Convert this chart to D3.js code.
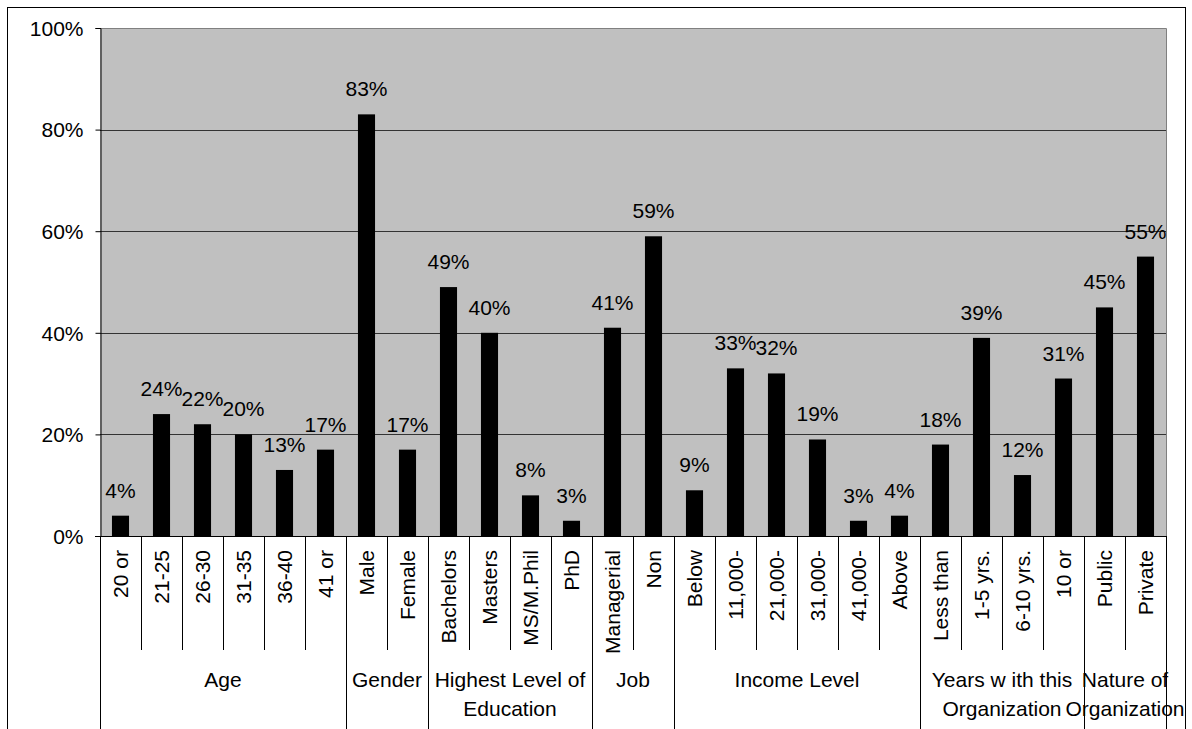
<!DOCTYPE html>
<html>
<head>
<meta charset="utf-8">
<script src="https://cdn.jsdelivr.net/npm/d3@7"></script>
<style>
  html, body { margin: 0; padding: 0; background: #fff; }
  svg { display: block; font-family: Arial, "Liberation Sans", sans-serif; }
</style>
</head>
<body>
<svg id="chart" width="1192" height="729"></svg>
<script>
// categories along the bottom, in order
const categories = ['20 or', '21-25', '26-30', '31-35', '36-40', '41 or',
  'Male', 'Female',
  'Bachelors', 'Masters', 'MS/M.Phil', 'PhD',
  'Managerial', 'Non',
  'Below', '11,000-', '21,000-', '31,000-', '41,000-', 'Above',
  'Less than', '1-5 yrs.', '6-10 yrs.', '10 or',
  'Public', 'Private'];
// percentages
const values = [4, 24, 22, 20, 13, 17,
  83, 17,
  49, 40, 8, 3,
  41, 59,
  9, 33, 32, 19, 3, 4,
  18, 39, 12, 31,
  45, 55];
// group labels (lines) and how many categories each one covers
const groupNames = [['Age'], ['Gender'], ['Highest Level of', 'Education'], ['Job'],
  ['Income Level'], ['Years w ith this', 'Organization'], ['Nature of', 'Organization']];
const groupSizes = [6, 2, 4, 2, 6, 4, 2];
const yTicks = [0, 20, 40, 60, 80, 100];

const W = 1192, H = 729;
const plotLeft = 100, plotRight = 1166, plotTop = 28, plotBottom = 536;
const fontSize = 21;

const svg = d3.select('#chart');

// outer frame
svg.append('rect')
  .attr('x', 7.5).attr('y', 7.5)
  .attr('width', 1178).attr('height', H + 20)
  .attr('fill', '#fff').attr('stroke', '#000').attr('stroke-width', 1);

const x = d3.scaleBand().domain(categories).range([plotLeft, plotRight]);
const y = d3.scaleLinear().domain([0, 100]).range([plotBottom, plotTop]);

// plot background
svg.append('rect')
  .attr('x', plotLeft).attr('y', plotTop)
  .attr('width', plotRight - plotLeft).attr('height', plotBottom - plotTop)
  .attr('fill', '#c0c0c0');

// grid lines
svg.append('g').selectAll('line')
  .data(yTicks.filter(d => d > 0 && d < 100))
  .enter().append('line')
  .attr('x1', plotLeft).attr('x2', plotRight)
  .attr('y1', d => Math.round(y(d)) + 0.5).attr('y2', d => Math.round(y(d)) + 0.5)
  .attr('stroke', '#333').attr('stroke-width', 1);

// plot border top / right
svg.append('path')
  .attr('d', `M${plotLeft},${plotTop + 0.5}H${plotRight + 0.5}V${plotBottom}`)
  .attr('fill', 'none').attr('stroke', '#808080').attr('stroke-width', 1);

// bars
const barW = x.bandwidth() / 2.4;
svg.append('g').selectAll('rect')
  .data(categories)
  .enter().append('rect')
  .attr('x', (d) => x(d) + (x.bandwidth() - barW) / 2)
  .attr('y', (d, i) => y(values[i]))
  .attr('width', barW)
  .attr('height', (d, i) => plotBottom - y(values[i]))
  .attr('fill', '#000');

// value labels
svg.append('g').selectAll('text')
  .data(categories)
  .enter().append('text')
  .attr('x', d => x(d) + x.bandwidth() / 2)
  .attr('y', (d, i) => y(values[i]) - 18)
  .attr('text-anchor', 'middle')
  .attr('font-size', fontSize)
  .attr('fill', '#000')
  .text((d, i) => values[i] + '%');

// y axis
const yAxis = d3.axisLeft(y)
  .tickValues(yTicks)
  .tickSize(5)
  .tickPadding(12)
  .tickFormat(d => d + '%');
const ya = svg.append('g')
  .attr('transform', `translate(${plotLeft + 0.5},0)`)
  .call(yAxis);
ya.select('.domain').attr('stroke', '#000');
ya.selectAll('.tick line').attr('stroke', '#000');
ya.selectAll('.tick text')
  .attr('font-size', fontSize)
  .attr('font-family', 'Arial, "Liberation Sans", sans-serif')
  .attr('fill', '#000')
  .attr('dy', '0.35em');

// x axis line
svg.append('line')
  .attr('x1', plotLeft - 5).attr('x2', plotRight)
  .attr('y1', plotBottom + 0.5).attr('y2', plotBottom + 0.5)
  .attr('stroke', '#000');

// category separators
const groupEnds = Array.from(d3.cumsum(groupSizes));
const bounds = d3.range(categories.length + 1);
svg.append('g').selectAll('line')
  .data(bounds)
  .enter().append('line')
  .attr('x1', i => Math.round(plotLeft + i * x.step()) + 0.5)
  .attr('x2', i => Math.round(plotLeft + i * x.step()) + 0.5)
  .attr('y1', plotBottom)
  .attr('y2', i => (i === 0 || groupEnds.includes(i)) ? H : 650)
  .attr('stroke', '#000');

// category labels (rotated)
svg.append('g').selectAll('text')
  .data(categories)
  .enter().append('text')
  .attr('transform', d => `translate(${x(d) + x.bandwidth() / 2 + 7.5},550) rotate(-90)`)
  .attr('text-anchor', 'end')
  .attr('font-size', fontSize)
  .attr('fill', '#000')
  .text(d => d);

// group labels
let start = 0;
groupSizes.forEach((n, gi) => {
  const cx = plotLeft + (start + n / 2) * x.step();
  const t = svg.append('text')
    .attr('x', cx).attr('y', 687)
    .attr('text-anchor', 'middle')
    .attr('font-size', fontSize)
    .attr('fill', '#000');
  groupNames[gi].forEach((line, li) => {
    t.append('tspan').attr('x', cx).attr('dy', li === 0 ? 0 : 29).text(line);
  });
  start += n;
});
</script>
</body>
</html>
